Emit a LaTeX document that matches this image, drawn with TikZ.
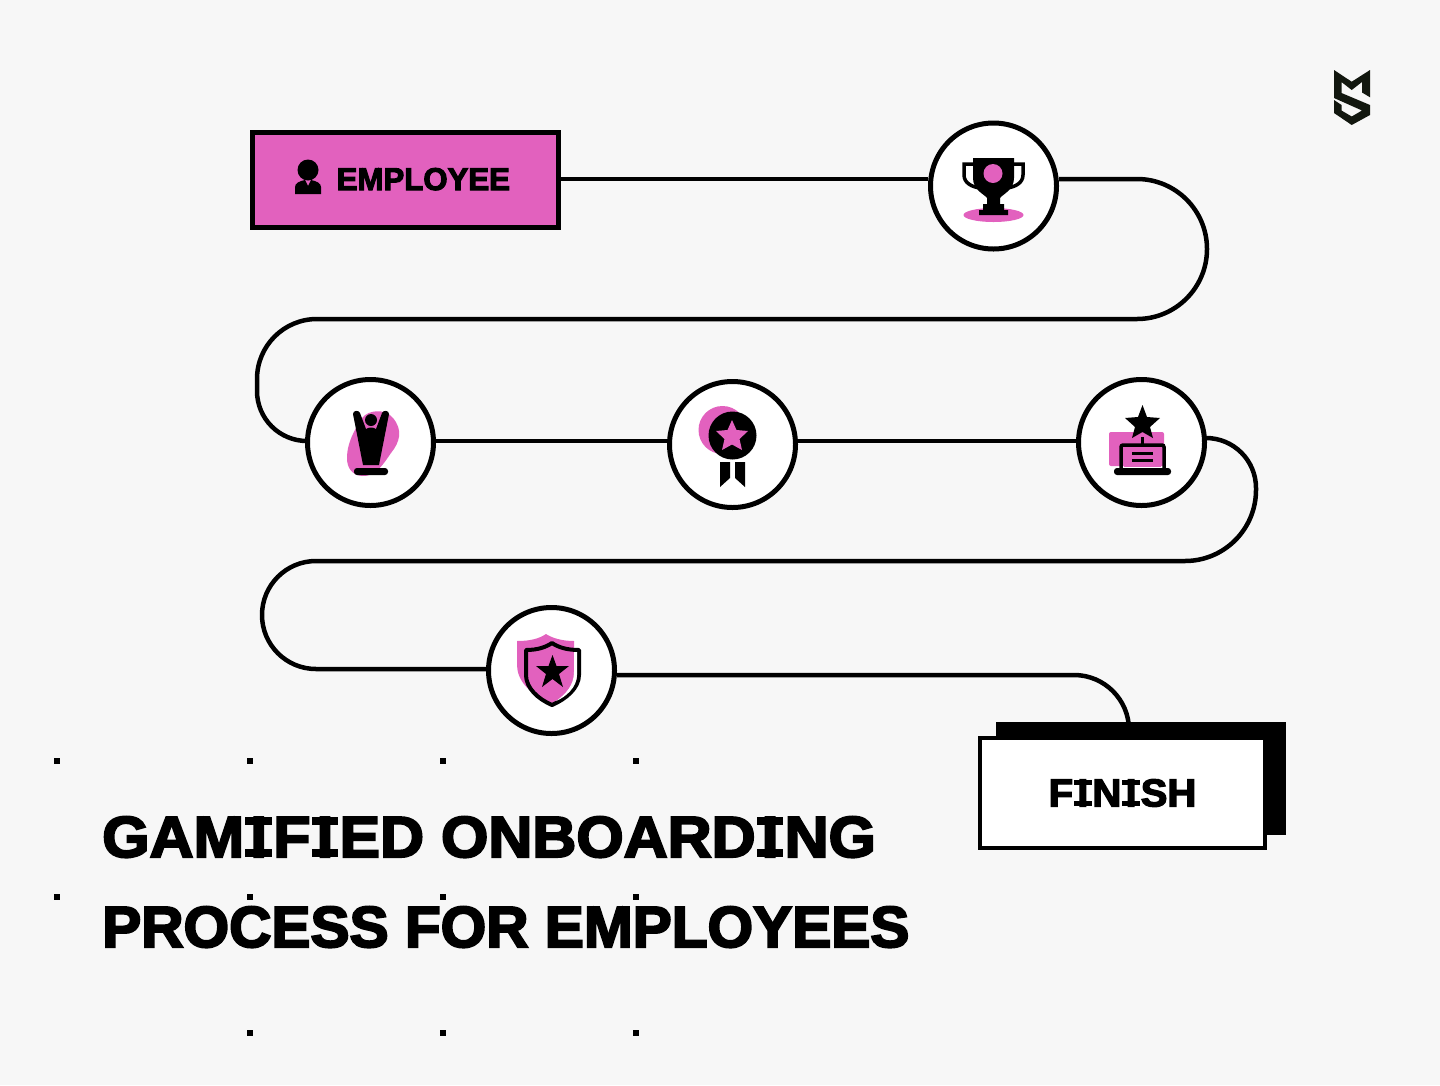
\documentclass[tikz,border=0pt]{standalone}
\usepackage{fontspec}
\usetikzlibrary{positioning}
\setmainfont{Liberation Sans}
\newfontfamily\lineonefont[FakeStretch=1.05,FakeBold=3.5]{Liberation Sans Bold}
\newfontfamily\linetwofont[FakeStretch=1.01,FakeBold=3.5]{Liberation Sans Bold}
\newfontfamily\employeefont[FakeStretch=0.99,FakeBold=3.5]{Liberation Sans Bold}
\newfontfamily\finishfont[FakeStretch=1.03,FakeBold=3.5]{Liberation Sans Bold}
\newcommand{\slabI}{\makebox[.5em][c]{\hfil\rlap{\kern-.23em\rule{.46em}{.14em}}\rlap{\kern-.23em\raisebox{.55em}{\rule{.46em}{.14em}}}\llap{\makebox[0pt][c]{I}}\hfil}}
\definecolor{pagegrey}{HTML}{F7F7F7}
\definecolor{pinkfill}{HTML}{E261BE}
\definecolor{markdark}{HTML}{12170F}
\tikzset{
  stop/.style={circle,draw=black,line width=5pt,fill=white,minimum size=126pt,inner sep=0pt},
  track/.style={draw=black,line width=4.5pt},
  griddot/.style={fill=black,minimum size=6pt,inner sep=0pt},
  headline/.style={anchor=base west,inner sep=0pt}
}
\begin{document}
\begin{tikzpicture}[x=1pt,y=-1pt]
\useasboundingbox[fill=pagegrey] (0,0) rectangle (1440,1085);
% dots behind the title
\foreach \dx in {57,250,443,636}
  \foreach \dy in {761,897}
    \node[griddot] (dot\dx-\dy) at (\dx,\dy) {};
\foreach \dx in {250,443,636}
  \node[griddot] (dot\dx-1033) at (\dx,1033) {};
% nodes
\node[draw=black,line width=5pt,fill=pinkfill,minimum width=306pt,minimum height=95pt,inner sep=0pt] (employee) at (405.5,180) {};
\node[font=\employeefont\fontsize{31.5}{32}\selectfont,anchor=base west,inner sep=0pt] (employeetext) at (336.5,190) {EMPLOYEE};
\node[stop] (trophy) at (993.5,186) {};
\node[stop] (cheer) at (370.5,442.5) {};
\node[stop] (medal) at (732.5,444.5) {};
\node[stop] (laptop) at (1141.5,442.5) {};
\node[stop] (shield) at (551.5,670.5) {};
% connectors
\draw[track] (employee.east |- 0,179) -- (trophy.west |- 0,179);
\draw[track] (trophy.east |- 0,179) -- (1137,179) arc[start angle=-90,end angle=90,radius=70] -- (317,319)
  arc[start angle=-90,end angle=-180,radius=60] -- (257,391) arc[start angle=180,end angle=90,radius=50] -- (cheer.west |- 0,441);
\draw[track] (cheer.east |- 0,441) -- (medal.west |- 0,441);
\draw[track] (medal.east |- 0,441) -- (laptop.west |- 0,441);
\draw[track] (laptop.east |- 0,438) -- (1206,438) arc[start angle=-90,end angle=0,radius=50] -- (1256,490)
  arc[start angle=0,end angle=90,radius=71] -- (316,561) arc[start angle=-90,end angle=-270,radius=54] -- (shield.west |- 0,669);
\draw[track] (shield.east |- 0,675) -- (1074,675) arc[start angle=-90,end angle=0,radius=55];
% finish box over the track end
\fill[black] (996,722) rectangle (1286,835);
\node[draw=black,line width=4pt,fill=white,minimum width=285pt,minimum height=110pt,inner sep=0pt,font=\finishfont\fontsize{38.8}{39}\selectfont] (finish) at (1122.5,793) {F\slabI N\slabI SH};
\node[headline,font=\lineonefont\fontsize{58}{60}\selectfont] (titleone) at (102,857) {GAM\slabI F\slabI ED ONBOARD\slabI NG};
\node[headline,font=\linetwofont\fontsize{58}{60}\selectfont] (titletwo) at (102,947) {PROCESS FOR EMPLOYEES};
% trophy
\fill[pinkfill] (993.5,215) ellipse[x radius=30,y radius=7];
\draw[black,line width=3.5pt] (975,164) -- (964,164) -- (964,175) .. controls (964,183) and (972,187) .. (980,188);
\draw[black,line width=3.5pt] (1012,164) -- (1023,164) -- (1023,175) .. controls (1023,183) and (1015,187) .. (1007,188);
\fill[black] (973,158) -- (1014,158) -- (1014,178) .. controls (1014,190) and (1003,194) .. (1000,198) -- (1000,204) -- (1004,204) -- (1004,210) -- (1008,210) -- (1008,215) -- (979,215) -- (979,210) -- (983,210) -- (983,204) -- (987,204) -- (987,198) .. controls (984,194) and (973,190) .. (973,178) -- cycle;
\fill[pinkfill] (993,173.5) circle[radius=9.5];
% cheering figure
\fill[pinkfill] (347,458) .. controls (347,440) and (358,425) .. (362,418) .. controls (368,410) and (385,408) .. (393,418) .. controls (403,430) and (400,442) .. (391,453) .. controls (384,463) and (376,477) .. (362,476) .. controls (352,475) and (347,468) .. (347,458) -- cycle;
\fill[black] (353,414) .. controls (353,410) and (359,410) .. (360,413) -- (366,429) .. controls (369,427) and (373,427) .. (376,429) -- (382,413) .. controls (383,410) and (389,410) .. (389,414) -- (379,465) -- (363,465) -- cycle;
\fill[black] (371,420) circle[radius=6];
\fill[black,rounded corners=3pt] (354,468) rectangle (388,475);
% medal
\fill[pinkfill] (722.5,430) circle[radius=24];
\fill[black] (732.5,435.5) circle[radius=24];
\fill[pinkfill] (732,420) -- (736.5,430) -- (748,431) -- (739.5,439) -- (742,450) -- (732,444.5) -- (722,450) -- (724.5,439) -- (716,431) -- (727.5,430) -- cycle;
\fill[black] (720,462) -- (730,462) -- (730,478) -- (720,487) -- cycle;
\fill[black] (735,462) -- (745,462) -- (745,487) -- (735,478) -- cycle;
% laptop
\fill[pinkfill,rounded corners=2pt] (1109,432) rectangle (1164,466);
\fill[black] (1142.5,405) -- (1147,417) -- (1160,418) -- (1150,427) -- (1153,438) -- (1142.5,432) -- (1132,438) -- (1135,427) -- (1125,418) -- (1138,417) -- cycle;
\draw[black,line width=3.5pt,rounded corners=2pt] (1121,470) -- (1121,445) -- (1164,445) -- (1164,470);
\draw[black,line width=3pt] (1142,445) -- (1142,437);
\fill[black,rounded corners=3pt] (1114,468) rectangle (1171,475);
\fill[pinkfill] (1124,448) rectangle (1161,467);
\fill[black] (1132,452) rectangle (1153,455);
\fill[black] (1132,459) rectangle (1153,462);
% shield
\fill[pinkfill] (517,641) .. controls (532,641) and (540,638) .. (546,634) .. controls (552,638) and (562,641) .. (574,641) -- (574,680) -- (550,699) .. controls (530,696) and (517,680) .. (517,665) -- cycle;
\draw[black,line width=4pt,line join=round,fill=pinkfill] (526,650) .. controls (538,650) and (546,647) .. (552,643) .. controls (558,647) and (566,650) .. (579,650) -- (579,675) .. controls (579,688) and (566,699) .. (552,705) .. controls (538,699) and (526,688) .. (526,675) -- cycle;
\fill[white] (577,652) -- (577,675) .. controls (577,687) and (566,697) .. (556,701) .. controls (566,694) and (574,685) .. (574,672) -- (574,652) -- cycle;
\fill[black] (552.5,655) -- (556.5,666) -- (569,666) -- (559,674) -- (563,687) -- (552.5,679) -- (542,687) -- (546,674) -- (536,666) -- (548.5,666) -- cycle;
% employee icon
\fill[black] (308,170) circle[radius=10.5];
\fill[black] (295,194) -- (295,187) .. controls (295,183) and (300,181) .. (305,180) -- (308,186) -- (311,180) .. controls (316,181) and (321,183) .. (321,187) -- (321,194) -- cycle;
% logo
\fill[markdark] (1334,70) -- (1351.7,81.7) -- (1370,70) -- (1370,97.3) -- (1362,92.5) -- (1362,82) -- (1351.7,90) -- (1341.5,82) -- (1341.5,93) -- (1370,105) -- (1370,115) -- (1351.7,125) -- (1334,113) -- (1334,100) -- (1341.5,105) -- (1341.5,110.5) -- (1351.7,116.5) -- (1362,110.5) -- (1334,98) -- cycle;
\end{tikzpicture}
\end{document}
